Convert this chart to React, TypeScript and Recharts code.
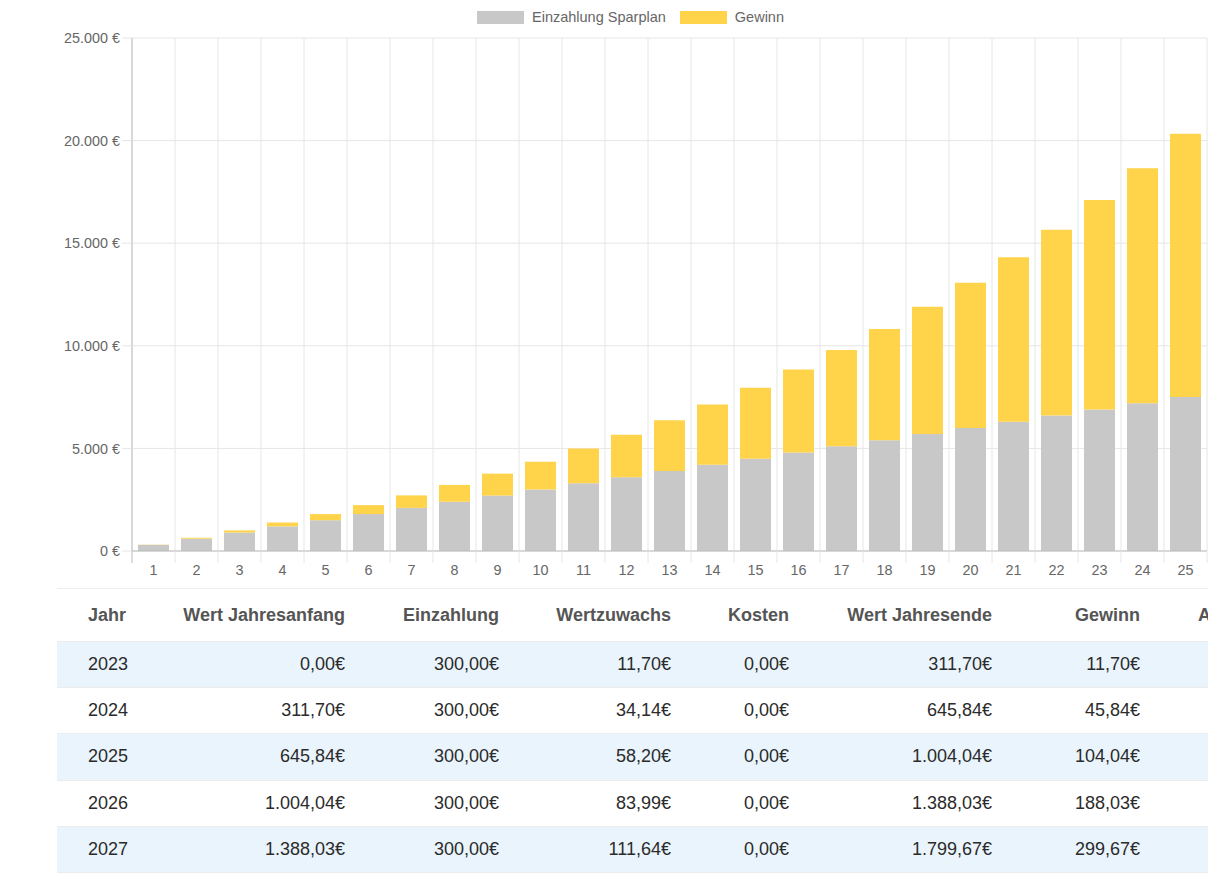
import React from 'react';
import { BarChart, Bar, XAxis, YAxis, CartesianGrid, Legend } from 'recharts';

// ---- chart data ----
const years = ['1', '2', '3', '4', '5', '6', '7', '8', '9', '10', '11', '12', '13', '14', '15', '16', '17', '18', '19', '20', '21', '22', '23', '24', '25'];
const einzahlungSparplan = [300, 600, 900, 1200, 1500, 1800, 2100, 2400, 2700, 3000, 3300, 3600, 3900, 4200, 4500, 4800, 5100, 5400, 5700, 6000, 6300, 6600, 6900, 7200, 7500];
const gewinn = [11.7, 45.84, 104.04, 188.03, 299.67, 435, 610, 820, 1070, 1350, 1690, 2060, 2470, 2940, 3460, 4040, 4690, 5420, 6200, 7070, 8020, 9060, 10200, 11450, 12830];
const yTicks = [0, 5000, 10000, 15000, 20000, 25000];
const seriesNames = ['Einzahlung Sparplan', 'Gewinn'];
const seriesColors = ['#c8c8c8', '#ffd34a'];

// ---- table data ----
const tableHeaders = ['Jahr', 'Wert Jahresanfang', 'Einzahlung', 'Wertzuwachs', 'Kosten', 'Wert Jahresende', 'Gewinn', 'A'];
const tableYears = ['2023', '2024', '2025', '2026', '2027', ''];
const wertJahresanfang = ['0,00€', '311,70€', '645,84€', '1.004,04€', '1.388,03€', ''];
const einzahlungCol = ['300,00€', '300,00€', '300,00€', '300,00€', '300,00€', ''];
const wertzuwachs = ['11,70€', '34,14€', '58,20€', '83,99€', '111,64€', ''];
const kosten = ['0,00€', '0,00€', '0,00€', '0,00€', '0,00€', ''];
const wertJahresende = ['311,70€', '645,84€', '1.004,04€', '1.388,03€', '1.799,67€', ''];
const gewinnCol = ['11,70€', '45,84€', '104,04€', '188,03€', '299,67€', ''];

const data = years.map((y, i) => ({ year: y, einzahlung: einzahlungSparplan[i], gewinn: gewinn[i] }));

const FONT = '"Liberation Sans", Arial, Helvetica, sans-serif';
const CHART_W = 1229;
const CHART_H = 590;
const Y_AXIS_W = 132;
const MARGIN = { top: 38, right: 22, bottom: 0, left: 0 };
const PLOT_W = CHART_W - MARGIN.left - MARGIN.right - Y_AXIS_W;
const BAND = PLOT_W / years.length;

const fmtEuro = (v: number) => {
  const s = String(Math.round(v));
  const withDots = s.replace(/\B(?=(\d{3})+(?!\d))/g, '.');
  return `${withDots} €`;
};

const XTick = (props: any) => {
  const { x, y, payload, index } = props;
  const axisY = y - 14;
  const left = x - BAND / 2;
  const isLast = index === years.length - 1;
  return (
    <g>
      <line x1={left} x2={left} y1={axisY} y2={axisY + 12} stroke={index === 0 ? '#bdbdbd' : '#e6e6e6'} />
      {isLast && <line x1={x + BAND / 2} x2={x + BAND / 2} y1={axisY} y2={axisY + 12} stroke="#e6e6e6" />}
      <text x={x} y={axisY + 24} textAnchor="middle" fill="#666" fontSize={14.4} fontFamily={FONT}>
        {payload.value}
      </text>
    </g>
  );
};

const LegendContent = () => (
  <div style={{ display: 'flex', alignItems: 'center', paddingLeft: 477, fontFamily: FONT, fontSize: 14.5, color: '#666' }}>
    {seriesNames.map((n, i) => (
      <div key={n} style={{ display: 'flex', alignItems: 'center', marginRight: 14 }}>
        <div style={{ width: 47, height: 13, background: seriesColors[i], marginRight: 8 }} />
        <span>{n}</span>
      </div>
    ))}
  </div>
);

const colRight = [null, 288, 442, 614, 732, 935, 1083, null];
const colLeft = [31, null, null, null, null, null, null, 1141];

const Cell = ({ text, ci, bold }: { text: string; ci: number; bold?: boolean }) => {
  const style: React.CSSProperties = {
    position: 'absolute',
    top: 0,
    bottom: 0,
    display: 'flex',
    alignItems: 'center',
    whiteSpace: 'nowrap',
    fontWeight: bold ? 700 : 400,
    color: bold ? '#555' : '#2b2b2b',
  };
  if (colLeft[ci] !== null) {
    style.left = colLeft[ci] as number;
  } else {
    style.right = 1151 - (colRight[ci] as number);
    style.justifyContent = 'flex-end';
  }
  return <div style={style}>{text}</div>;
};

const Table = () => {
  const rows = tableYears.map((y, i) => [y, wertJahresanfang[i], einzahlungCol[i], wertzuwachs[i], kosten[i], wertJahresende[i], gewinnCol[i], '']);
  return (
    <div style={{ position: 'absolute', left: 57, top: 588, width: 1151, height: 295, overflow: 'hidden', fontFamily: FONT, fontSize: 18 }}>
      <div style={{ position: 'relative', height: 53, borderTop: '1px solid #eeeeee', boxSizing: 'border-box', background: '#fff' }}>
        {tableHeaders.map((h, ci) => (
          <Cell key={ci} text={h} ci={ci} bold />
        ))}
      </div>
      {rows.map((r, ri) => (
        <div
          key={ri}
          style={{
            position: 'relative',
            height: 46.2,
            borderTop: '1px solid #ececec',
            boxSizing: 'border-box',
            background: ri % 2 === 0 ? '#eaf4fc' : '#ffffff',
          }}
        >
          {r.map((t, ci) => (
            <Cell key={ci} text={t} ci={ci} />
          ))}
        </div>
      ))}
    </div>
  );
};

export default function App() {
  return (
    <div style={{ position: 'absolute', left: 0, top: 0, width: 1229, height: 883, background: '#fff', overflow: 'hidden' }}>
      <BarChart width={CHART_W} height={CHART_H} data={data} margin={MARGIN} barSize={31}>
        <CartesianGrid
          stroke="#e6e6e6"
          verticalCoordinatesGenerator={({ offset }: any) =>
            Array.from({ length: years.length + 1 }, (_, i) => offset.left + (i * offset.width) / years.length)
          }
        />
        <XAxis
          dataKey="year"
          interval={0}
          tickLine={false}
          tickSize={12}
          tickMargin={2}
          height={39}
          axisLine={{ stroke: '#bdbdbd' }}
          tick={<XTick />}
        />
        <YAxis
          width={Y_AXIS_W}
          domain={[0, 25000]}
          ticks={yTicks}
          interval={0}
          tickFormatter={fmtEuro}
          tickSize={10}
          tickMargin={2}
          tickLine={{ stroke: '#e6e6e6' }}
          axisLine={{ stroke: '#bdbdbd' }}
          tick={{ fill: '#666', fontSize: 14.4, fontFamily: FONT }}
        />
        <Legend verticalAlign="middle" align="center" content={<LegendContent />} wrapperStyle={{ top: 9, left: 0, width: CHART_W }} />
        <Bar dataKey="einzahlung" name={seriesNames[0]} stackId="a" fill={seriesColors[0]} isAnimationActive={false} />
        <Bar dataKey="gewinn" name={seriesNames[1]} stackId="a" fill={seriesColors[1]} isAnimationActive={false} />
      </BarChart>
      <Table />
    </div>
  );
}
